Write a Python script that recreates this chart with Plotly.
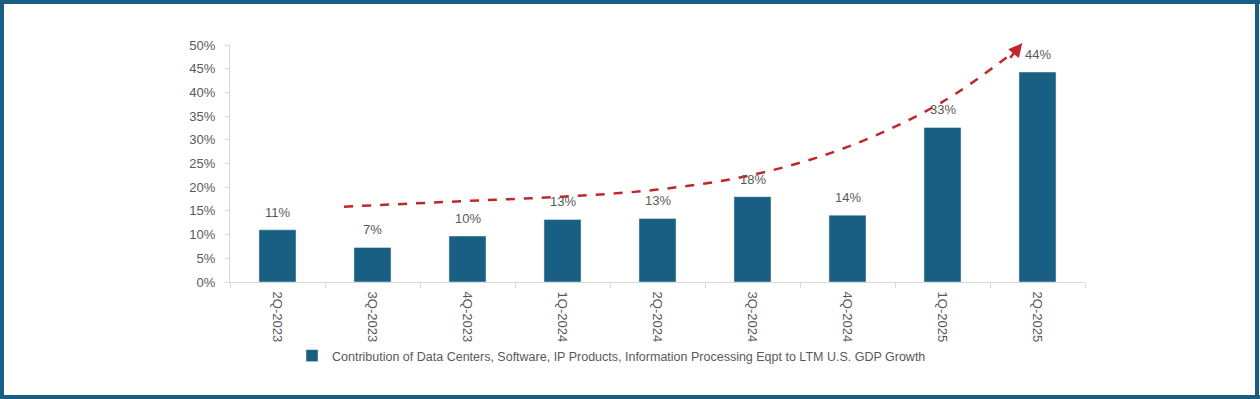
import plotly.graph_objects as go

categories = ["2Q-2023", "3Q-2023", "4Q-2023", "1Q-2024", "2Q-2024",
              "3Q-2024", "4Q-2024", "1Q-2025", "2Q-2025"]
values = [11.0, 7.3, 9.7, 13.2, 13.4, 18.0, 14.1, 32.6, 44.3]
labels = ["11%", "7%", "10%", "13%", "13%", "18%", "14%", "33%", "44%"]
series_name = ("Contribution of Data Centers, Software, IP Products, "
               "Information Processing Eqpt to LTM U.S. GDP Growth")

# hand-drawn trend arrow (category index, percent)
trend_x = [0.7, 2.0, 3.0, 4.0, 5.0, 6.0, 7.0, 7.78]
trend_y = [15.9, 17.1, 18.0, 19.5, 22.6, 28.5, 38.0, 49.0]

BAR = "#195e83"
RED = "#c0272d"
GRAY = "#595959"
AXIS = "#d9d9d9"

W, H = 1260, 399
L, R, T, B = 230, 175, 45, 117

x_idx = list(range(len(categories)))

fig = go.Figure()
fig.add_trace(go.Bar(
    x=x_idx, y=values, name=series_name, marker_color=BAR, width=0.39,
    showlegend=True,
))
fig.add_trace(go.Scatter(
    x=trend_x, y=trend_y, mode="lines", line=dict(color=RED, width=2.5, dash="dash", shape="spline"),
    showlegend=False, hoverinfo="skip",
))
# arrow head
fig.add_annotation(
    x=trend_x[-1] + 0.06, y=trend_y[-1] + 1.4, ax=trend_x[-1] - 0.08, ay=trend_y[-1] - 2.0,
    xref="x", yref="y", axref="x", ayref="y", text="", showarrow=True,
    arrowhead=2, arrowsize=1.1, arrowwidth=2.5, arrowcolor=RED,
)
for xi, v, t in zip(x_idx, values, labels):
    fig.add_annotation(x=xi, y=v, text=t, showarrow=False, yanchor="bottom", yshift=8,
                       font=dict(family="Liberation Sans, Arial", size=13, color=GRAY))

# frame
def px_rect(x0, y0, x1, y1):
    fig.add_shape(type="rect", xref="paper", yref="paper",
                  x0=(x0 - L) / (W - L - R), x1=(x1 - L) / (W - L - R),
                  y0=(H - B - y1) / (H - T - B), y1=(H - B - y0) / (H - T - B),
                  fillcolor=BAR, line_width=0, layer="above")

px_rect(0, 0, 4, H)
px_rect(0, 0, W, 4)
px_rect(1255, 0, 1259, H)
px_rect(0, 395, W, H)

fig.update_layout(
    width=W, height=H,
    margin=dict(l=L, r=R, t=T, b=B, autoexpand=False),
    paper_bgcolor="white", plot_bgcolor="white",
    font=dict(family="Liberation Sans, Arial", size=13, color=GRAY),
    legend=dict(orientation="h", x=(292 - L) / (W - L - R), xanchor="left",
                y=-(356 - (H - B)) / (H - T - B), yanchor="middle",
                font=dict(size=12.5, color=GRAY), itemwidth=30,
                bgcolor="rgba(0,0,0,0)"),
    xaxis=dict(range=[-0.5, 8.5], tickvals=x_idx, ticktext=categories, tickangle=90,
               showline=True, linecolor=AXIS, linewidth=1, ticks="", showgrid=False,
               zeroline=False, tickfont=dict(size=13, color=GRAY), ticklabelstandoff=6,
               minor=dict(tick0=-0.5, dtick=1, ticks="outside", ticklen=5, tickcolor=AXIS, showgrid=False)),
    yaxis=dict(range=[0, 50], dtick=5, ticksuffix="%", showline=True, linecolor=AXIS,
               ticks="outside", ticklen=4, tickcolor=AXIS, showgrid=False, zeroline=False,
               ticklabelstandoff=7, tickfont=dict(size=13, color=GRAY)),
)

fig.write_html("out.html", config={"displayModeBar": False},
               post_script="document.body.style.margin='0';")
